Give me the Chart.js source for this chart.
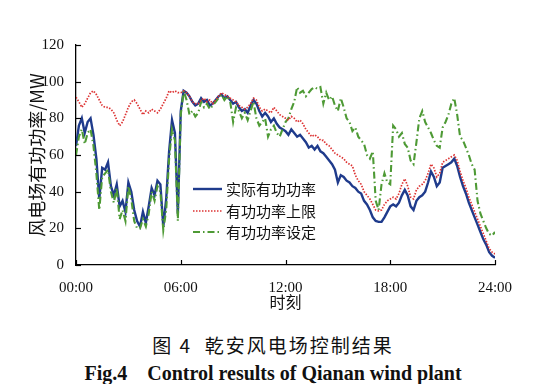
<!DOCTYPE html>
<html><head><meta charset="utf-8">
<script src="https://cdn.jsdelivr.net/npm/chart.js@4.4.0/dist/chart.umd.min.js"></script>
<style>
html,body{margin:0;padding:0;background:#fff;}
#wrap{position:relative;width:546px;height:384px;overflow:hidden;background:#fff;}
#box{position:absolute;left:0;top:0;width:546px;height:320px;}
.cap1{position:absolute;left:0;top:333px;width:546px;text-align:center;font-family:"Noto Sans CJK SC";font-size:19px;letter-spacing:2px;line-height:24px;color:#111;}
.cap2{position:absolute;left:0;top:360px;width:546px;text-align:center;font-family:"Liberation Serif";font-weight:bold;font-size:20px;line-height:26px;color:#111;}
</style></head>
<body><div id="wrap"><div id="box"><canvas id="cv"></canvas></div>
<div class="cap1">图 4&nbsp;&nbsp;乾安风电场控制结果</div>
<div class="cap2">Fig.4&nbsp;&nbsp;&nbsp;&nbsp;Control results of Qianan wind plant</div>
</div>
<script>
// time step between samples (hours): 10 minutes
const stepHours = 1/6;
const xTickLabels = ["00:00","06:00","12:00","18:00","24:00"];
const seriesNames = ["实际有功功率","有功功率上限","有功功率设定"];

const actualPower = [
65,76,80,72,78,80,  71,58,36,53,52,56,  43,38,44,32,35,29,  45,40,30,24,21,29,
23,32,42,38,46,44,  21,36,62,79,72,28,  84,95,94,92,89,87,  88,91,89,90,87,88,
90,92,93,91,92,90,  88,89,86,84,85,83,  87,90,88,84,81,83,  81,78,80,77,75,74,
73,71,74,72,70,71,  69,67,64,65,63,65,  62,61,59,57,55,52,  45,49,48,46,45,43,
42,40,39,35,33,30,  26,24,23.5,23.5,26,29,  32,33,32,34,38,41,  38,32,30,35,37,38,
40,45,51,48,43,45,  53,54,55,56,58,54,  48,43,39,34,30,26,  22,18,14,11,7,5,
4];

const powerLimit = [
91.5,89,86,88,91,94,  95,93,90,87,86,86,  85,83,79,76,78,82,  86,89,90,88,85,82,
84,83,85,84,83,85,  88,91,95,94,95,94,  94,95,94,92,89,88,  88,90,91,89,90,88,
90,92,94,93,92,91,  90,89,87,86,85,86,  88,91,90,86,84,85,  84,83,86,84,82,81,
80,79,81,80,78,79,  77,74,72,70,71,70,  68,68,66,65,63,61,  60,59,58,56,55,54,
49,46,44,40,38,36,  33,30,29.5,30,33,35,  36,37,36,39,44,47,  43,37,36,41,43,44,
46,50,55,53,48,50,  56,57,58,59,60,57,  51,46,42,37,33,29,  25,21,17,13,9,7,
6];

const powerSetpoint = [
60,70,74,66,72,74,  65,50,30,48,50,52,  40,34,42,25,30,24,  43,36,24,20,20,25,
21,28,40,35,43,40,  19,30,58,74,68,24,  82,95,90,82,84,81,  83,89,86,88,85,87,
89,91,93,90,92,89,  78,86,84,80,83,79,  84,89,80,76,78,80,  70,74,76,72,70,74,
78,80,85,89,97,94,  95,92,94,96,97,96,  97,88,94,90,92,87,  84,91,86,80,78,73,
75,70,68,66,60,58,  62,35,30,44,50,45,  44,76,74,70,72,66,  64,57,55,67,80,84,
78,75,72,68,65,64,  75,78,82,88,91,82,  70,68,64,60,55,52,  35,28,24,20,17,16,
18];

const toXY = arr => arr.map((v,i)=>({x:i*stepHours, y:v}));

const inwardTicks = {
  id:'inwardTicks',
  afterDraw(chart){
    const {ctx, chartArea:a, scales:{x,y}} = chart;
    ctx.save(); ctx.strokeStyle='#000'; ctx.lineWidth=1.2;
    y.ticks.forEach(t=>{const py=Math.round(y.getPixelForValue(t.value))+0.5; ctx.beginPath(); ctx.moveTo(a.left,py); ctx.lineTo(a.left+5,py); ctx.stroke();});
    x.ticks.forEach(t=>{const px=Math.round(x.getPixelForValue(t.value))+0.5; ctx.beginPath(); ctx.moveTo(px,a.bottom); ctx.lineTo(px,a.bottom-5); ctx.stroke();});
    ctx.restore();
  }
};

const innerLegend = {
  id:'innerLegend',
  afterDraw(chart){
    const {ctx} = chart;
    const x0=193, x1=222, tx=226, rows=[189,211,232];
    ctx.save();
    ctx.font='15px "Noto Sans CJK SC"';
    ctx.textBaseline='middle';
    chart.data.datasets.forEach((ds,k)=>{
      ctx.strokeStyle=ds.borderColor; ctx.lineWidth=ds.borderWidth;
      ctx.setLineDash(ds.borderDash||[]);
      ctx.beginPath(); ctx.moveTo(x0,rows[k]); ctx.lineTo(x1,rows[k]); ctx.stroke();
      ctx.setLineDash([]);
      ctx.fillStyle='#111';
      ctx.fillText(ds.label, tx, rows[k]);
    });
    ctx.restore();
  }
};

new Chart(document.getElementById('cv'), {
  type:'line',
  data:{datasets:[
    {label:seriesNames[0], data:toXY(actualPower), borderColor:'#1f3b8c', borderWidth:2.4, pointRadius:0, order:3},
    {label:seriesNames[1], data:toXY(powerLimit), borderColor:'#dd3333', borderWidth:1.7, borderDash:[1.5,1.5], pointRadius:0, order:1},
    {label:seriesNames[2], data:toXY(powerSetpoint), borderColor:'#4e9a35', borderWidth:2.1, borderDash:[7,3,1.5,3], pointRadius:0, order:2}
  ]},
  options:{
    responsive:true, maintainAspectRatio:false, animation:false,
    layout:{padding:{left:0,top:45,right:51,bottom:0}},
    plugins:{legend:{display:false}, tooltip:{enabled:false}},
    elements:{line:{tension:0}},
    scales:{
      x:{type:'linear', min:0, max:24,
        ticks:{stepSize:6, color:'#111', font:{family:'Liberation Serif', size:15}, padding:6, maxRotation:0,
          callback:v=>xTickLabels[Math.round(v/6)]},
        grid:{display:false},
        border:{display:true,color:'#000',width:1.3},
        title:{display:true,text:'时刻',color:'#111',font:{family:'Noto Sans CJK SC',size:16},padding:{top:0,bottom:8}},
        afterFit:s=>{s.height=55;}
      },
      y:{min:0,max:120,
        ticks:{stepSize:20,color:'#111',font:{family:'Liberation Serif',size:15},padding:4},
        grid:{display:false},
        border:{display:true,color:'#000',width:1.3},
        title:{display:true,text:'风电场有功功率/MW',color:'#111',font:{family:'Noto Sans CJK SC',size:18},padding:{top:26,bottom:0}},
        afterFit:s=>{s.width=76;}
      }
    }
  },
  plugins:[inwardTicks, innerLegend]
});
</script>
</body></html>
